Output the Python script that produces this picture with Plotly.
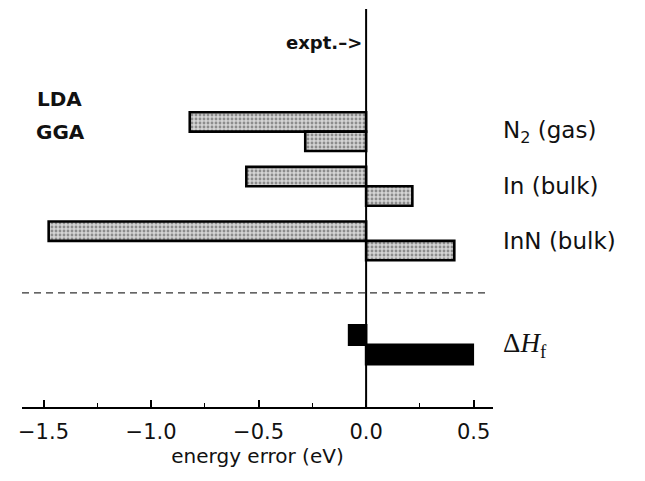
import plotly.graph_objects as go

# ---------------- data ----------------
systems = ["N<sub>2</sub> (gas)", "In (bulk)", "InN (bulk)", "Δ<i>H</i><sub>f</sub>"]
lda_error = [-0.82, -0.557, -1.476, -0.079]
gga_error = [-0.283, 0.215, 0.41, 0.496]
tick_values = [-1.5, -1.0, -0.5, 0.0, 0.5]
tick_labels = ["−1.5", "−1.0", "−0.5", "0.0", "0.5"]

# ---------------- layout helpers ----------------
row_pos = [3, 2, 1, -0.9]          # vertical slot for each system
separator_pos = 0.05               # dashed separator between species and ΔHf
bar_w = 0.355

bar_colors = ["#d4d4d4", "#d4d4d4", "#d4d4d4", "black"]
bar_patterns = [".", ".", ".", ""]

fig = go.Figure()

for vals, off, name in [(lda_error, 0, "LDA"), (gga_error, -bar_w, "GGA")]:
    fig.add_trace(go.Bar(
        x=vals, y=row_pos, orientation="h", name=name,
        width=bar_w, offset=off,
        marker=dict(color=bar_colors, line=dict(color="black", width=2.6),
                    pattern=dict(shape=bar_patterns, fgcolor="#6e6e6e", size=4, solidity=0.4)),
        showlegend=False, hoverinfo="skip",
    ))

# experimental reference line (zero)
fig.add_shape(type="line", xref="x", yref="paper", x0=0, x1=0, y0=0, y1=1,
              line=dict(color="black", width=2))
# dashed separator
fig.add_shape(type="line", xref="paper", yref="y", x0=0, x1=0.99,
              y0=separator_pos, y1=separator_pos,
              line=dict(color="#333333", width=1.3, dash="7px,5px"))

# right-hand labels
for i, (lab, yv) in enumerate(zip(systems, row_pos)):
    is_dh = i == 3
    fig.add_annotation(
        x=1.017, xref="paper", y=yv, yref="y", text=lab, showarrow=False,
        xanchor="left", yanchor="middle",
        font=dict(family="Liberation Serif" if is_dh else "DejaVu Sans",
                  size=27 if is_dh else 23, color="#111111"),
    )

# method labels
fig.add_annotation(x=0.028, xref="paper", y=3.6, yref="y", text="<b>LDA</b>",
                   showarrow=False, xanchor="left", yanchor="middle",
                   font=dict(family="DejaVu Sans", size=20, color="#111111"))
fig.add_annotation(x=0.025, xref="paper", y=3.0, yref="y", text="<b>GGA</b>",
                   showarrow=False, xanchor="left", yanchor="middle",
                   font=dict(family="DejaVu Sans", size=20, color="#111111"))
fig.add_annotation(x=0, xref="x", y=4.64, yref="y", text="<b>expt.–></b>",
                   showarrow=False, xanchor="right", yanchor="middle", xshift=-2,
                   font=dict(family="DejaVu Sans", size=18, color="#111111"))

fig.update_layout(
    width=645, height=481,
    margin=dict(l=22, r=152, t=9, b=74),
    paper_bgcolor="white", plot_bgcolor="white",
    barmode="overlay",
    font=dict(family="DejaVu Sans", color="#111111"),
    xaxis=dict(
        range=[-1.6, 0.59], tickvals=tick_values, ticktext=tick_labels,
        showline=True, linecolor="black", linewidth=1.5,
        ticks="inside", ticklen=7, tickwidth=1.5, tickcolor="black",
        minor=dict(tickvals=[-1.25, -0.75, -0.25, 0.25], ticks="inside",
                   ticklen=4, tickwidth=1.2, tickcolor="black"),
        showgrid=False, zeroline=False,
        tickfont=dict(family="DejaVu Sans", size=21),
        ticklabelstandoff=5,
        title=dict(text="energy error (eV)", font=dict(family="DejaVu Sans", size=20),
                   standoff=6),
    ),
    yaxis=dict(range=[-2.04, 5.245], visible=False, showgrid=False, zeroline=False),
)

fig.write_html("out.html")
